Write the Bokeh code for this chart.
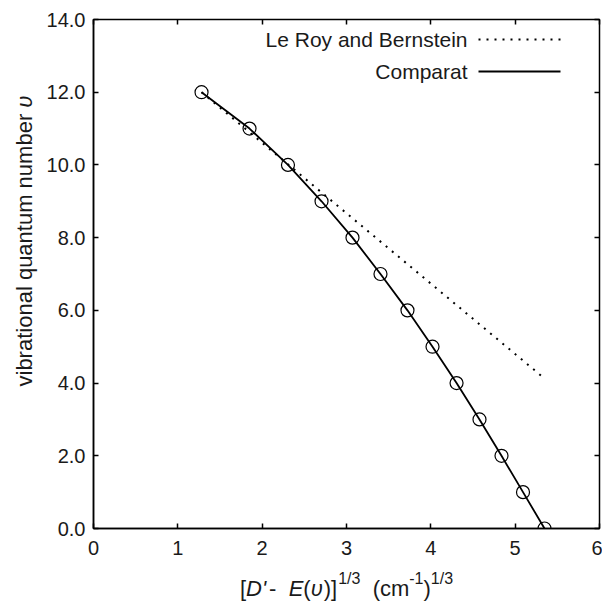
from bokeh.plotting import figure
from bokeh.models import Range1d, FixedTicker, PrintfTickFormatter, LinearAxis, Label
from bokeh.layouts import row, column
from bokeh.embed import file_html
from bokeh.resources import INLINE
import math

# ---------------- data ----------------
v_levels = [0, 1, 2, 3, 4, 5, 6, 7, 8, 9, 10, 11, 12]
comparat_x = [5.348, 5.093, 4.838, 4.577, 4.305, 4.020, 3.723, 3.403,
              3.071, 2.704, 2.306, 1.850, 1.281]
lb_x = [1.281, 5.32]
lb_v = [12.0, 4.18]
x_ticks = [0, 1, 2, 3, 4, 5, 6]
y_ticks = [0, 2, 4, 6, 8, 10, 12, 14]
legend_labels = ["Le Roy and Bernstein", "Comparat"]

# ---------------- layout constants ----------------
TOTAL_W, TOTAL_H = 602, 602
WL = 40                      # width of the y-title strip
W = TOTAL_W - WL             # main figure width
H = 564                      # main figure height
HB = TOTAL_H - H             # height of the x-title strip
ML, MR, MT, MB = 53, 3, 19, 36
FW = W - ML - MR
FH = H - MT - MB
FONT = "Liberation Sans"
TXT = "#1a1a1a"

p = figure(width=W, height=H, x_range=Range1d(0, 6), y_range=Range1d(0, 14),
           output_backend="svg", toolbar_location=None, title=None,
           min_border_left=ML, min_border_right=MR,
           min_border_top=MT, min_border_bottom=MB)
p.background_fill_color = "white"
p.border_fill_color = "white"
p.outline_line_color = "black"
p.outline_line_width = 1.5
p.grid.visible = False

xa = p.below[0]
ya = p.left[0]
for ax in (xa, ya):
    ax.major_tick_in = 5
    ax.major_tick_out = 0
    ax.minor_tick_in = 0
    ax.minor_tick_out = 0
    ax.major_tick_line_width = 1.5
    ax.major_tick_line_color = "black"
    ax.axis_line_width = 1.5
    ax.axis_line_color = "black"
    ax.major_label_text_font = FONT
    ax.major_label_text_font_size = "20px"
    ax.major_label_text_color = TXT
xa.ticker = FixedTicker(ticks=x_ticks)
ya.ticker = FixedTicker(ticks=y_ticks)
ya.formatter = PrintfTickFormatter(format="%.1f")
xa.major_label_standoff = 12
ya.major_label_standoff = 8

# mirrored ticks on top and right (no labels)
for loc, ticks in (("above", x_ticks), ("right", y_ticks)):
    ax = LinearAxis(ticker=FixedTicker(ticks=ticks))
    ax.major_tick_in = 5
    ax.major_tick_out = 0
    ax.minor_tick_in = 0
    ax.minor_tick_out = 0
    ax.major_tick_line_width = 1.5
    ax.major_tick_line_color = "black"
    ax.axis_line_color = None
    ax.major_label_text_font_size = "1px"
    ax.major_label_text_color = None
    ax.major_label_standoff = 0
    p.add_layout(ax, loc)

# ---------------- data glyphs ----------------
p.line(comparat_x, v_levels, line_color="black", line_width=1.8)
p.line(lb_x, lb_v, line_color="black", line_width=2, line_dash="2 6")
p.scatter(comparat_x, v_levels, marker="circle", size=13, fill_color=None,
          line_color="black", line_width=1.2)

# ---------------- legend (text left of sample, gnuplot style) ----------------
xpu = FW / 6.0
ypu = FH / 14.0
rows = [20, 52]                 # px below frame top
text_right = FW - 132           # px from frame left
samp = (6 - 121 / xpu, 6 - 39 / xpu)
for i, (lab, dash) in enumerate(zip(legend_labels, ["2 6", "solid"])):
    yd = 14 - rows[i] / ypu
    p.line(list(samp), [yd, yd], line_color="black",
           line_width=2 if dash != "solid" else 1.8, line_dash=dash)
    p.add_layout(Label(x=text_right, y=FH - rows[i], x_units="screen", y_units="screen",
                       text=lab, text_font=FONT, text_font_size="21px",
                       text_color=TXT, text_align="right", text_baseline="middle"))

# ---------------- axis titles built from styled pieces ----------------
EM = {'[': .278, ']': .278, '(': .333, ')': .333, 'D': .722, "'": .191, ' ': .278,
      '-': .333, 'E': .667, 'υ': .548, '1': .556, '/': .278, '3': .556, 'c': .5,
      'm': .833, 'v': .5, 'i': .222, 'b': .556, 'r': .333, 'a': .556, 't': .278,
      'o': .556, 'n': .556, 'l': .222, 'q': .556, 'u': .556, 'e': .556}

def tw(s, fs):
    return sum(EM.get(ch, .556) for ch in s) * fs

def strip(width, height):
    f = figure(width=width, height=height, x_range=Range1d(0, 1), y_range=Range1d(0, 1),
               output_backend="svg", toolbar_location=None, title=None,
               x_axis_type=None, y_axis_type=None,
               min_border=0, min_border_left=0, min_border_right=0,
               min_border_top=0, min_border_bottom=0)
    f.outline_line_color = None
    f.grid.visible = False
    f.background_fill_color = "white"
    f.border_fill_color = "white"
    return f

FS, FSS = 22, 16

# x title strip (below the main figure; its frame is aligned with the main frame)
xs = strip(W, HB)
# (text, style, superscript, extra space after)
xpieces = [("[", "normal", False, 0), ("D'", "italic", False, 3), (" - ", "normal", False, 0),
           ("E", "italic", False, 0), ("(", "normal", False, 0), ("υ", "italic", False, 1),
           (")]", "normal", False, 1), ("1/3", "normal", True, 0), ("  ", "normal", False, 0),
           ("(cm", "normal", False, 0), ("-1", "normal", True, 0), (")", "normal", False, 0),
           ("1/3", "normal", True, 0)]
total = sum(tw(s, FSS if sup else FS) + k for s, _, sup, k in xpieces)
cx = FW / 2 - total / 2
for s, style, sup, k in xpieces:
    fs = FSS if sup else FS
    if s.strip():
        xs.add_layout(Label(x=cx, y=24.4 if sup else 14, x_units="screen", y_units="screen",
                            text=s, text_font=FONT, text_font_size=f"{fs}px",
                            text_font_style=style, text_color=TXT,
                            text_align="left", text_baseline="alphabetic"))
    cx += tw(s, fs) + k

# y title strip (left of the main figure, same height)
ys = strip(WL, H)
ypieces = [("vibrational quantum number ", "normal"), ("υ", "italic")]
cy = 178
for s, style in ypieces:
    ys.add_layout(Label(x=24, y=cy, x_units="screen", y_units="screen", angle=math.pi / 2,
                        text=s, text_font=FONT, text_font_size=f"{FS}px",
                        text_font_style=style, text_color=TXT,
                        text_align="left", text_baseline="alphabetic"))
    cy += tw(s, FS)

layout = row(ys, column(p, xs, spacing=0), spacing=0)
open("out.html", "w").write(file_html(layout, INLINE))
